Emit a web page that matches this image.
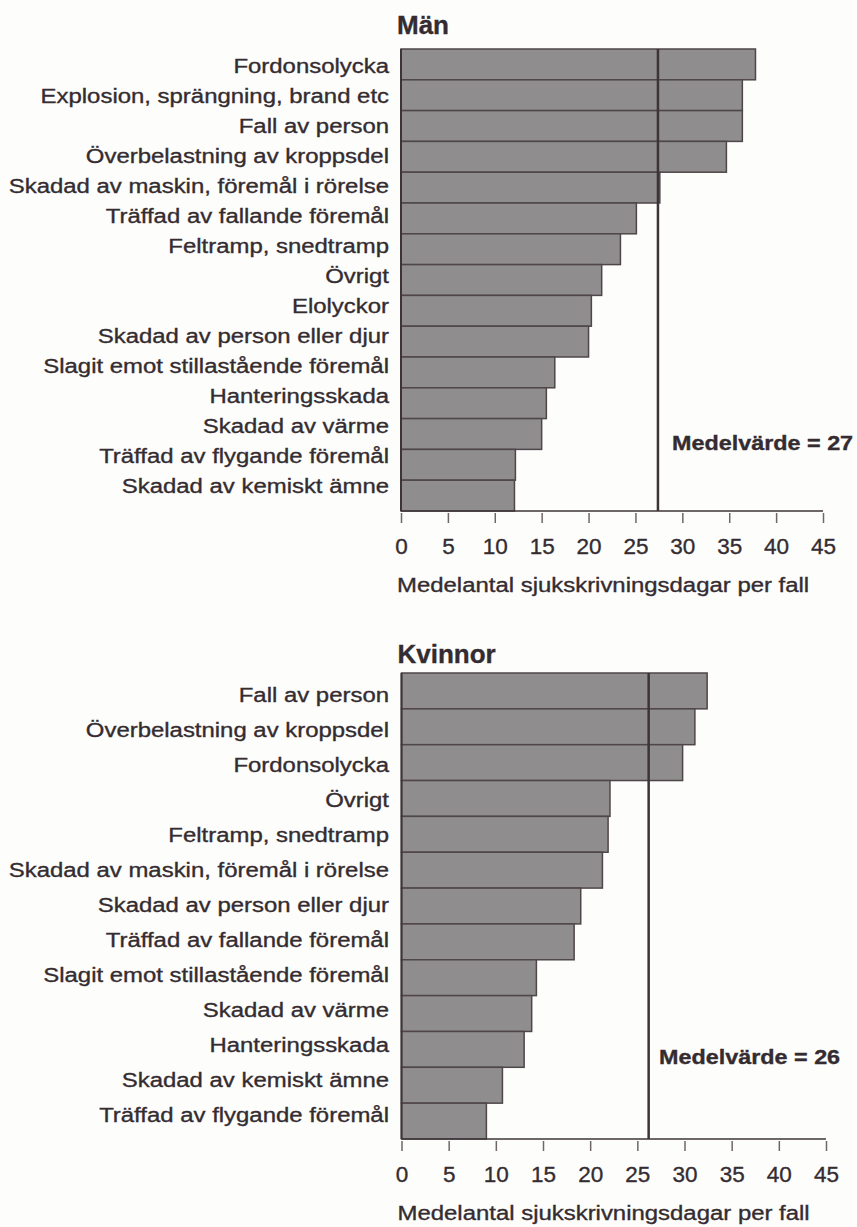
<!DOCTYPE html>
<html>
<head>
<meta charset="utf-8">
<script src="https://cdn.jsdelivr.net/npm/d3@7"></script>
<style>
  body { margin: 0; background: #fdfdfc; }
  svg { display: block; }
  text {
    font-family: 'Liberation Sans', Arial, sans-serif;
    fill: #342c30;
    stroke: #342c30;
    stroke-width: 0.35px;
  }
</style>
</head>
<body>
<div id="chart"></div>
<script>
// Män
const menCategories = [
  'Fordonsolycka',
  'Explosion, sprängning, brand etc',
  'Fall av person',
  'Överbelastning av kroppsdel',
  'Skadad av maskin, föremål i rörelse',
  'Träffad av fallande föremål',
  'Feltramp, snedtramp',
  'Övrigt',
  'Elolyckor',
  'Skadad av person eller djur',
  'Slagit emot stillastående föremål',
  'Hanteringsskada',
  'Skadad av värme',
  'Träffad av flygande föremål',
  'Skadad av kemiskt ämne'
]
const menValues = [37.8, 36.4, 36.4, 34.7, 27.6, 25.1, 23.4, 21.4, 20.3, 20.0, 16.4, 15.5, 15.0, 12.2, 12.1]
const menMean = 27.4

// Kvinnor
const womenCategories = [
  'Fall av person',
  'Överbelastning av kroppsdel',
  'Fordonsolycka',
  'Övrigt',
  'Feltramp, snedtramp',
  'Skadad av maskin, föremål i rörelse',
  'Skadad av person eller djur',
  'Träffad av fallande föremål',
  'Slagit emot stillastående föremål',
  'Skadad av värme',
  'Hanteringsskada',
  'Skadad av kemiskt ämne',
  'Träffad av flygande föremål'
]
const womenValues = [32.4, 31.1, 29.8, 22.1, 21.9, 21.3, 19.0, 18.3, 14.3, 13.8, 13.0, 10.7, 9.0]
const womenMean = 26.2

const tickValues = [0, 5, 10, 15, 20, 25, 30, 35, 40, 45]
const axisTitle = 'Medelantal sjukskrivningsdagar per fall'

// the scan is a bit wider than tall, so stretch text horizontally
const sx = 1.14

const svg = d3
  .select('#chart')
  .append('svg')
  .attr('width', 857)
  .attr('height', 1227)

drawChart({
  title: 'Män',
  categories: menCategories,
  values: menValues,
  mean: menMean,
  left: 401,
  right: 823,
  top: 49,
  bottom: 511,
  labelTop: 52,
  labelBottom: 502,
  titleY: 34,
  meanLabelX: 672,
  meanLabelY: 450
})

drawChart({
  title: 'Kvinnor',
  categories: womenCategories,
  values: womenValues,
  mean: womenMean,
  left: 401.5,
  right: 826,
  top: 673,
  bottom: 1139,
  labelTop: 678,
  labelBottom: 1134,
  titleY: 663,
  meanLabelX: 659,
  meanLabelY: 1064
})

function drawChart(cfg) {
  const g = svg.append('g')

  const xPositionScale = d3
    .scaleLinear()
    .domain([0, 45])
    .range([cfg.left, cfg.right])

  const yPositionScale = d3
    .scaleBand()
    .domain(cfg.categories)
    .range([cfg.top, cfg.bottom])
    .padding(0)

  // labels in the scan sit on a slightly tighter grid than the bars
  const yLabelScale = d3
    .scaleBand()
    .domain(cfg.categories)
    .range([cfg.labelTop, cfg.labelBottom])

  const data = cfg.categories.map((c, i) => ({ name: c, value: cfg.values[i] }))

  // title
  g.append('text')
    .attr('x', cfg.left - 4)
    .attr('y', cfg.titleY)
    .attr('font-size', 26)
    .attr('font-weight', 'bold')
    .text(cfg.title)

  // bars
  g.selectAll('.bar')
    .data(data)
    .enter()
    .append('rect')
    .attr('class', 'bar')
    .attr('x', xPositionScale(0))
    .attr('y', d => yPositionScale(d.name))
    .attr('width', d => xPositionScale(d.value) - xPositionScale(0))
    .attr('height', yPositionScale.bandwidth())
    .attr('fill', '#8f8d8e')
    .attr('stroke', '#4f464a')
    .attr('stroke-width', 1.5)

  // category labels
  g.selectAll('.label')
    .data(data)
    .enter()
    .append('g')
    .attr('class', 'label')
    .attr('transform', d =>
      'translate(' + 389 + ',' + (yLabelScale(d.name) + yLabelScale.bandwidth() / 2 + 6) + ')')
    .append('text')
    .attr('transform', 'scale(' + sx + ',1)')
    .attr('text-anchor', 'end')
    .attr('font-size', 21)
    .text(d => d.name)

  // left axis line
  g.append('line')
    .attr('x1', xPositionScale(0))
    .attr('x2', xPositionScale(0))
    .attr('y1', cfg.top)
    .attr('y2', cfg.bottom)
    .attr('stroke', '#3d3438')
    .attr('stroke-width', 2)

  // bottom axis
  const xAxis = d3
    .axisBottom(xPositionScale)
    .tickValues(tickValues)
    .tickSize(10)
    .tickPadding(15)

  const axisG = g
    .append('g')
    .attr('class', 'axis x-axis')
    .attr('transform', 'translate(0,' + (cfg.bottom + 2) + ')')
    .call(xAxis)

  axisG.select('.domain').remove()
  axisG.selectAll('.tick line')
    .attr('stroke', '#6f6669')
    .attr('stroke-width', 1.5)
  axisG.selectAll('.tick text')
    .attr('font-size', 22.5)
    .attr('font-family', "'Liberation Sans', Arial, sans-serif")
    .attr('fill', '#342c30')

  g.append('line')
    .attr('x1', xPositionScale(0))
    .attr('x2', xPositionScale(45))
    .attr('y1', cfg.bottom)
    .attr('y2', cfg.bottom)
    .attr('stroke', '#3d3438')
    .attr('stroke-width', 1.5)

  // mean line
  g.append('line')
    .attr('x1', xPositionScale(cfg.mean))
    .attr('x2', xPositionScale(cfg.mean))
    .attr('y1', cfg.top)
    .attr('y2', cfg.bottom)
    .attr('stroke', '#3d3438')
    .attr('stroke-width', 2.5)

  g.append('g')
    .attr('transform', 'translate(' + cfg.meanLabelX + ',' + cfg.meanLabelY + ')')
    .append('text')
    .attr('transform', 'scale(' + sx + ',1)')
    .attr('font-size', 20.5)
    .attr('font-weight', 'bold')
    .text('Medelvärde = ' + Math.round(cfg.mean))

  // axis title
  g.append('g')
    .attr('transform', 'translate(' + (cfg.left - 4) + ',' + (cfg.bottom + 81) + ')')
    .append('text')
    .attr('transform', 'scale(' + sx + ',1)')
    .attr('font-size', 21)
    .text(axisTitle)
}
</script>
</body>
</html>
